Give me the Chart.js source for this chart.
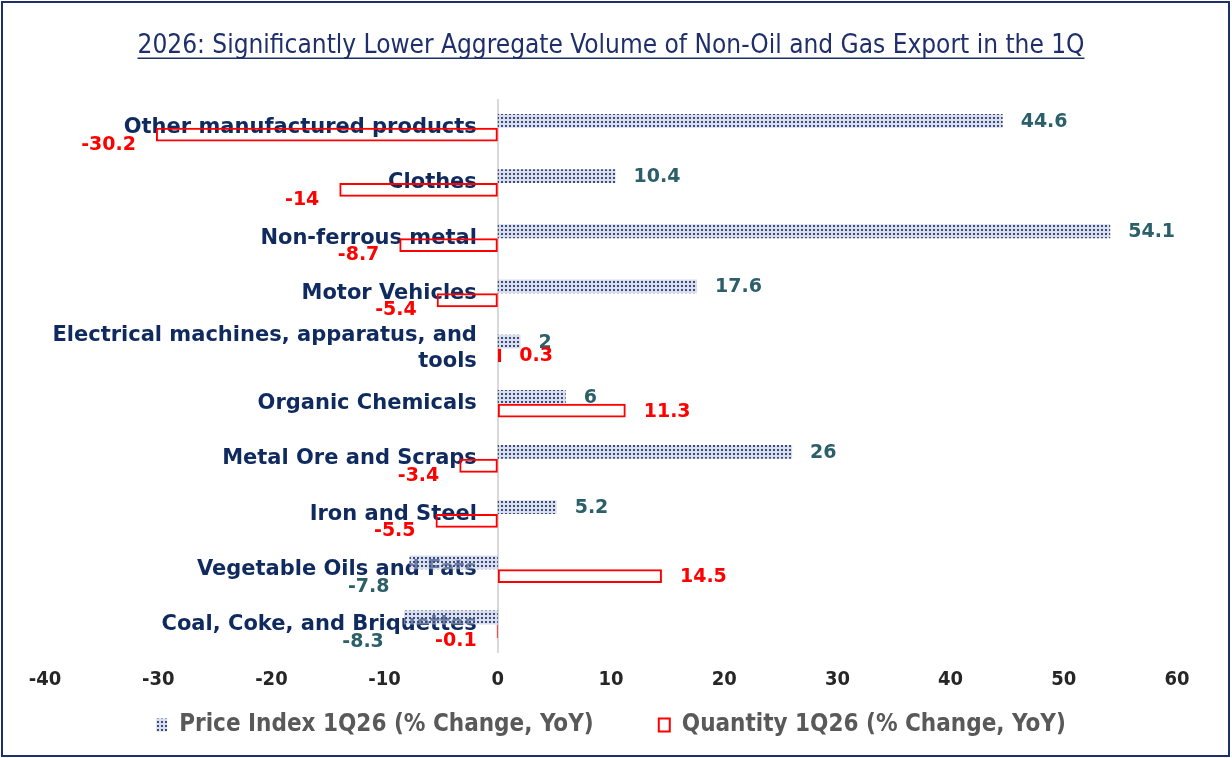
<!DOCTYPE html>
<html>
<head>
<meta charset="utf-8">
<script src="https://cdn.jsdelivr.net/npm/chart.js@4.4.1/dist/chart.umd.min.js"></script>
<style>
body { margin: 0; background: #fff; }
canvas { display: block; }
</style>
</head>
<body>
<canvas id="export_chart" width="1232" height="758"></canvas>
<script>
const categories = [
    'Other manufactured products',
    'Clothes',
    'Non-ferrous metal',
    'Motor Vehicles',
    ['Electrical machines, apparatus, and', 'tools'],
    'Organic Chemicals',
    'Metal Ore and Scraps',
    'Iron and Steel',
    'Vegetable Oils and Fats',
    'Coal, Coke, and Briquettes'
]
const price_index = [44.6, 10.4, 54.1, 17.6, 2, 6, 26, 5.2, -7.8, -8.3]
const quantity = [-30.2, -14, -8.7, -5.4, 0.3, 11.3, -3.4, -5.5, 14.5, -0.1]
const series_names = ['Price Index 1Q26 (% Change, YoY)', 'Quantity 1Q26 (% Change, YoY)']
const x_min = -40
const x_max = 60
const x_step = 10

const title_text = '2026: Significantly Lower Aggregate Volume of Non-Oil and Gas Export in the 1Q'
const title_size = 26
const title_pad_top = 31
const narrow = '"DejaVu Sans Condensed", "DejaVu Sans", sans-serif'
const navy = '#1f2f6b'

const canvas = document.querySelector('#export_chart')
const ctx = canvas.getContext('2d')

// dotted fill like the excel pattern
function dot_pattern() {
    const tile = document.createElement('canvas')
    tile.width = 4
    tile.height = 4
    const g = tile.getContext('2d')
    g.fillStyle = 'rgba(185,194,220,0.55)'
    g.fillRect(0, 0, 4, 4)
    g.fillStyle = '#3c4b7c'
    g.fillRect(1, 1, 2, 2)
    return ctx.createPattern(tile, 'repeat')
}

const frame = {
    id: 'frame',
    beforeDraw(chart) {
        const c = chart.ctx
        c.save()
        c.fillStyle = '#fff'
        c.fillRect(0, 0, chart.width, chart.height)
        c.restore()
    },
    afterDraw(chart) {
        const c = chart.ctx
        c.save()
        c.strokeStyle = navy
        c.lineWidth = 2
        c.strokeRect(2, 2, chart.width - 5, chart.height - 4)
        // underline for the title
        const t = chart.titleBlock
        c.font = title_size + 'px ' + narrow
        const w = c.measureText(title_text).width
        const cx = (t.left + t.right) / 2
        const y = t.top + title_pad_top + title_size * 0.6 + title_size * 0.45
        c.lineWidth = 1.5
        c.beginPath()
        c.moveTo(cx - w / 2, y)
        c.lineTo(cx + w / 2, y)
        c.stroke()
        c.restore()
    }
}

const label_colors = ['#2b5f6a', '#ff0000']

const value_labels = {
    id: 'value_labels',
    afterDatasetsDraw(chart) {
        const c = chart.ctx
        c.save()
        c.font = 'bold 19px "DejaVu Sans"'
        c.textBaseline = 'middle'
        chart.data.datasets.forEach((ds, i) => {
            const meta = chart.getDatasetMeta(i)
            c.fillStyle = label_colors[i]
            meta.data.forEach((bar, j) => {
                const v = ds.data[j]
                if (v >= 0) {
                    c.textAlign = 'left'
                    c.fillText(v, bar.x + 18, bar.y + 1)
                } else {
                    c.textAlign = 'right'
                    c.fillText(v, bar.x - 20, bar.y + (i === 0 ? 25 : 10))
                }
            })
        })
        c.restore()
    }
}

new Chart(canvas, {
    type: 'bar',
    data: {
        labels: categories,
        datasets: [{
            label: series_names[0],
            data: price_index,
            backgroundColor: dot_pattern(),
            borderWidth: 0
        }, {
            label: series_names[1],
            data: quantity,
            backgroundColor: 'rgba(255,255,255,0)',
            borderColor: '#ff0000',
            borderWidth: 2,
            borderSkipped: false
        }]
    },
    options: {
        indexAxis: 'y',
        responsive: false,
        animation: false,
        categoryPercentage: 0.5,
        barPercentage: 1,
        layout: {
            padding: {left: 45, right: 55, top: 0, bottom: 11}
        },
        plugins: {
            title: {
                display: true,
                text: title_text,
                color: navy,
                font: {family: narrow, size: title_size, weight: 'normal'},
                padding: {top: title_pad_top, bottom: 38}
            },
            legend: {
                position: 'bottom',
                labels: {
                    color: '#595959',
                    font: {family: narrow, size: 24, weight: 'bold'},
                    boxWidth: 11,
                    boxHeight: 13,
                    padding: 5,
                    generateLabels: chart => {
                        const items = Chart.defaults.plugins.legend.labels.generateLabels(chart)
                        items[0].text += '        '
                        return items
                    }
                }
            },
            tooltip: {enabled: false}
        },
        scales: {
            x: {
                min: x_min,
                max: x_max,
                ticks: {
                    stepSize: x_step,
                    padding: 16,
                    color: '#262626',
                    font: {family: narrow, size: 20, weight: 'bold'}
                },
                grid: {display: false, drawTicks: false},
                border: {display: false}
            },
            // zero line, bars hang off it
            y: {
                type: 'category',
                position: {x: 0},
                grid: {display: false, drawTicks: false},
                border: {display: true, color: '#d9d9d9', width: 2},
                ticks: {display: false}
            },
            // category names, set a little left of zero
            y_names: {
                type: 'category',
                axis: 'y',
                position: {x: -1.85},
                grid: {display: false, drawTicks: false},
                border: {display: false},
                ticks: {
                    color: '#0f2a5e',
                    font: {family: 'DejaVu Sans', size: 21, weight: 'bold'}
                }
            }
        }
    },
    plugins: [frame, value_labels]
})
</script>
</body>
</html>
